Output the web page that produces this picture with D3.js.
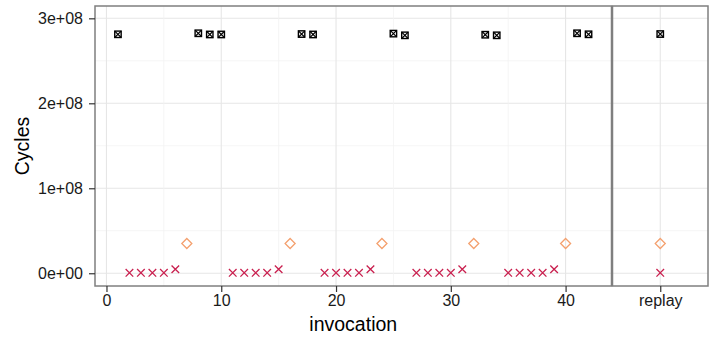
<!DOCTYPE html>
<html><head><meta charset="utf-8">
<script src="https://cdn.jsdelivr.net/npm/d3@7"></script>
<style>body{margin:0;background:#fff}svg{display:block}text{font-family:"Liberation Sans",Arial,sans-serif}</style>
</head><body><svg id="c" width="719" height="338"></svg>
<script>
// ---- data ----
const xTicks = [0, 10, 20, 30, 40];
const yTicks = [0, 1e8, 2e8, 3e8];
const yTickLabels = ["0e+00", "1e+08", "2e+08", "3e+08"];
const replayLabel = "replay";

const squareInvocation = [1, 8, 9, 10, 17, 18, 25, 26, 33, 34, 41, 42];
const squareCycles = [2.812e8, 2.824e8, 2.81e8, 2.81e8, 2.815e8, 2.81e8, 2.82e8, 2.80e8, 2.807e8, 2.80e8, 2.824e8, 2.812e8];

const diamondInvocation = [7, 16, 24, 32, 40];
const diamondCycles = [3.5e7, 3.5e7, 3.5e7, 3.5e7, 3.5e7];

const crossInvocation = [2, 3, 4, 5, 6, 11, 12, 13, 14, 15, 19, 20, 21, 22, 23, 27, 28, 29, 30, 31, 35, 36, 37, 38, 39];
const crossCycles = [5e5, 5e5, 5e5, 5e5, 4.7e6, 5e5, 5e5, 5e5, 5e5, 4.7e6, 5e5, 5e5, 5e5, 5e5, 4.7e6, 5e5, 5e5, 5e5, 5e5, 4.7e6, 5e5, 5e5, 5e5, 5e5, 4.7e6];

const replaySquareCycles = [2.815e8];
const replayDiamondCycles = [3.5e7];
const replayCrossCycles = [5e5];

// ---- layout ----
const svg = d3.select("#c");
const pTop = 6, pBot = 286;
const p1 = {l: 95, r: 611.5};
const p2 = {l: 612.5, r: 708};
const y = d3.scaleLinear().domain([-1.5e7, 3.145e8]).range([pBot, pTop]);
const x = d3.scaleLinear().domain([-1.0, 44.0]).range([p1.l, p1.r]);
const xr = d3.scalePoint().domain([replayLabel]).range([p2.l, p2.r]).padding(0.5);

const majorCol = "#e6e6e6", minorCol = "#f3f3f3";
const yMinor = [0.5e8, 1.5e8, 2.5e8];
const xMinor = [5, 15, 25, 35];

function panelGrid(x0, x1) {
  const g = svg.append("g");
  g.selectAll(".ymin").data(yMinor).join("line")
    .attr("x1", x0).attr("x2", x1).attr("y1", d => y(d)).attr("y2", d => y(d))
    .attr("stroke", minorCol).attr("stroke-width", 0.8);
  g.selectAll(".ymaj").data(yTicks).join("line")
    .attr("x1", x0).attr("x2", x1).attr("y1", d => y(d)).attr("y2", d => y(d))
    .attr("stroke", majorCol).attr("stroke-width", 1.1);
  return g;
}
const g1 = panelGrid(p1.l, p1.r);
g1.selectAll(".xmin").data(xMinor).join("line")
  .attr("x1", d => x(d)).attr("x2", d => x(d)).attr("y1", pTop).attr("y2", pBot)
  .attr("stroke", minorCol).attr("stroke-width", 0.8);
g1.selectAll(".xmaj").data(xTicks).join("line")
  .attr("x1", d => x(d)).attr("x2", d => x(d)).attr("y1", pTop).attr("y2", pBot)
  .attr("stroke", majorCol).attr("stroke-width", 1.1);
const g2 = panelGrid(p2.l, p2.r);
g2.append("line").attr("x1", xr(replayLabel)).attr("x2", xr(replayLabel)).attr("y1", pTop).attr("y2", pBot)
  .attr("stroke", majorCol).attr("stroke-width", 1.1);

// ---- markers ----
const crossCol = "#c9204f", diamondCol = "#f4a06e";
function drawSquares(g, xs, ys) {
  const s = 3.2;
  xs.forEach((cx, i) => {
    const cy = ys[i];
    g.append("rect").attr("x", cx - s).attr("y", cy - s).attr("width", 2 * s).attr("height", 2 * s)
      .attr("fill", "none").attr("stroke", "#000").attr("stroke-width", 1.4);
    g.append("path").attr("d", `M${cx - s},${cy - s}L${cx + s},${cy + s}M${cx - s},${cy + s}L${cx + s},${cy - s}`)
      .attr("stroke", "#000").attr("stroke-width", 1.2);
  });
}
function drawDiamonds(g, xs, ys) {
  const s = 5;
  xs.forEach((cx, i) => {
    const cy = ys[i];
    g.append("path").attr("d", `M${cx},${cy - s}L${cx + s},${cy}L${cx},${cy + s}L${cx - s},${cy}Z`)
      .attr("fill", "none").attr("stroke", diamondCol).attr("stroke-width", 1.3);
  });
}
function drawCrosses(g, xs, ys) {
  const s = 3.8;
  xs.forEach((cx, i) => {
    const cy = ys[i];
    g.append("path").attr("d", `M${cx - s},${cy - s}L${cx + s},${cy + s}M${cx - s},${cy + s}L${cx + s},${cy - s}`)
      .attr("stroke", crossCol).attr("stroke-width", 1.3);
  });
}
const m = svg.append("g");
drawSquares(m, squareInvocation.map(x), squareCycles.map(y));
drawDiamonds(m, diamondInvocation.map(x), diamondCycles.map(y));
drawCrosses(m, crossInvocation.map(x), crossCycles.map(y));
drawSquares(m, replaySquareCycles.map(() => xr(replayLabel)), replaySquareCycles.map(y));
drawDiamonds(m, replayDiamondCycles.map(() => xr(replayLabel)), replayDiamondCycles.map(y));
drawCrosses(m, replayCrossCycles.map(() => xr(replayLabel)), replayCrossCycles.map(y));

// ---- borders ----
[p1, p2].forEach(p => {
  svg.append("rect").attr("x", p.l).attr("y", pTop).attr("width", p.r - p.l).attr("height", pBot - pTop)
    .attr("fill", "none").attr("stroke", "#7f7f7f").attr("stroke-width", 1.5);
});

// ---- axes ----
const tickCol = "#333", labCol = "#1a1a1a";
const yAxis = svg.append("g").attr("transform", `translate(${p1.l},0)`)
  .call(d3.axisLeft(y).tickValues(yTicks).tickFormat((d, i) => yTickLabels[i]).tickSize(6).tickPadding(6));
const xAxis = svg.append("g").attr("transform", `translate(0,${pBot})`)
  .call(d3.axisBottom(x).tickValues(xTicks).tickSize(6).tickPadding(3));
const xAxis2 = svg.append("g").attr("transform", `translate(0,${pBot})`)
  .call(d3.axisBottom(xr).tickSize(6).tickPadding(3));
[yAxis, xAxis, xAxis2].forEach(a => {
  a.select(".domain").remove();
  a.selectAll(".tick line").attr("stroke", tickCol).attr("stroke-width", 1.2);
  a.selectAll(".tick text").attr("fill", labCol).style("font-size", "16px");
});

svg.append("text").attr("x", (p1.l + p1.r) / 2).attr("y", 331)
  .attr("text-anchor", "middle").style("font-size", "19.5px").attr("fill", "#000").text("invocation");
svg.append("text").attr("transform", `translate(29,${(pTop + pBot) / 2}) rotate(-90)`)
  .attr("text-anchor", "middle").style("font-size", "19.5px").attr("fill", "#000").text("Cycles");
</script></body></html>
